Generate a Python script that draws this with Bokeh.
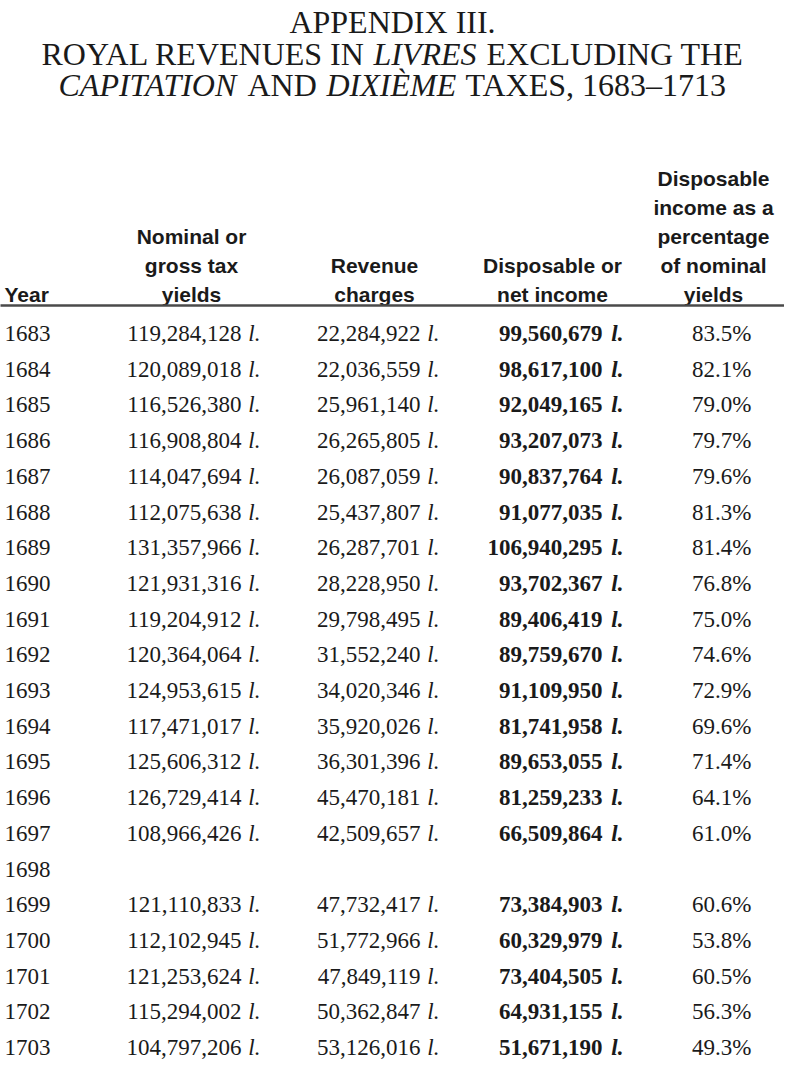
from bokeh.plotting import figure
from bokeh.models import Range1d, ColumnDataSource
from bokeh.core.properties import value
from bokeh.embed import file_html
from bokeh.resources import INLINE

# ---------------- data ----------------
years = [1683, 1684, 1685, 1686, 1687, 1688, 1689, 1690, 1691, 1692, 1693,
         1694, 1695, 1696, 1697, 1698, 1699, 1700, 1701, 1702, 1703]
nominal = [119284128, 120089018, 116526380, 116908804, 114047694, 112075638,
           131357966, 121931316, 119204912, 120364064, 124953615, 117471017,
           125606312, 126729414, 108966426, None, 121110833, 112102945,
           121253624, 115294002, 104797206]
charges = [22284922, 22036559, 25961140, 26265805, 26087059, 25437807,
           26287701, 28228950, 29798495, 31552240, 34020346, 35920026,
           36301396, 45470181, 42509657, None, 47732417, 51772966,
           47849119, 50362847, 53126016]
net = [99560679, 98617100, 92049165, 93207073, 90837764, 91077035,
       106940295, 93702367, 89406419, 89759670, 91109950, 81741958,
       89653055, 81259233, 66509864, None, 73384903, 60329979,
       73404505, 64931155, 51671190]
pct = [83.5, 82.1, 79.0, 79.7, 79.6, 81.3, 81.4, 76.8, 75.0, 74.6, 72.9,
       69.6, 71.4, 64.1, 61.0, None, 60.6, 53.8, 60.5, 56.3, 49.3]

title_line1 = "APPENDIX III."
title_line2 = [("ROYAL REVENUES IN", "normal"), ("LIVRES", "italic"),
               ("EXCLUDING THE", "normal")]
title_line3 = [("CAPITATION", "italic"), ("AND", "normal"),
               ("DIXIÈME", "italic"), ("TAXES, 1683–1713", "normal")]

headers = [
    ["Year"],
    ["Nominal or", "gross tax", "yields"],
    ["Revenue", "charges"],
    ["Disposable or", "net income"],
    ["Disposable", "income as a", "percentage", "of nominal", "yields"],
]
unit = "l."

# ---------------- layout ----------------
SERIF = value("Liberation Serif")
SANS = value("Liberation Sans")
INK = "#1a1a1a"

p = figure(width=784, height=1065, x_range=Range1d(8, 792),
           y_range=Range1d(1073, 8), output_backend="svg",
           toolbar_location=None, min_border=0)
p.title.visible = False
p.axis.visible = False
p.grid.visible = False
p.outline_line_color = None
p.background_fill_color = "white"
p.border_fill_color = "white"

# title
TFS = "32px"
p.text(x=[400], y=[29], text=[title_line1], text_font=SERIF,
       text_font_size=TFS, text_align="center",
       text_baseline="alphabetic", text_color=INK)
line2_x = [49, 381, 494]
for (t, st), xx in zip(title_line2, line2_x):
    p.text(x=[xx], y=[61], text=[t], text_font=SERIF, text_font_size=TFS,
           text_font_style=st, text_align="left",
           text_baseline="alphabetic", text_color=INK)
line3_x = [66, 255, 334, 473]
for (t, st), xx in zip(title_line3, line3_x):
    p.text(x=[xx], y=[92], text=[t], text_font=SERIF, text_font_size=TFS,
           text_font_style=st, text_align="left",
           text_baseline="alphabetic", text_color=INK)

# headers
head_x = [12, 199, 382, 560, 721]
head_align = ["left", "center", "center", "center", "center"]
base_last = 302
step = 29
for lines, hx, al in zip(headers, head_x, head_align):
    n = len(lines)
    ys = [base_last - step * (n - 1 - k) for k in range(n)]
    p.text(x=[hx] * n, y=ys, text=lines, text_font=SANS,
           text_font_size="21px", text_font_style="bold", text_align=al,
           text_baseline="alphabetic", text_color=INK)

# rule
p.segment(x0=[0], y0=[313], x1=[800], y1=[313], line_width=2.5,
          line_color="#4a4a4a")

# rows
row0 = 341
row_step = 35.7
ys = [row0 + i * row_step for i in range(len(years))]

def fmt(v):
    return "" if v is None else f"{v:,}"

def fmt_u(v):
    return "" if v is None else unit

src = ColumnDataSource(dict(
    y=ys,
    year=[str(y) for y in years],
    nom=[fmt(v) for v in nominal],
    chg=[fmt(v) for v in charges],
    net=[fmt(v) for v in net],
    pct=["" if v is None else f"{v:.1f}%" for v in pct],
    u=[fmt_u(v) for v in nominal],
))

FS = "23px"
common = dict(source=src, y="y", text_baseline="alphabetic",
              text_color=INK, text_font_size=FS, text_font=SERIF)

p.text(x=12, text="year", text_align="left", **common)
# nominal
p.text(x=249, text="nom", text_align="right", **common)
p.text(x=268, text="u", text_align="right", text_font_style="italic", **common)
# charges
p.text(x=428, text="chg", text_align="right", **common)
p.text(x=447, text="u", text_align="right", text_font_style="italic", **common)
# net (bold)
p.text(x=610, text="net", text_align="right", text_font_style="bold", **common)
p.text(x=631, text="u", text_align="right", text_font_style="bold italic",
       **common)
# percent
p.text(x=759, text="pct", text_align="right", **common)

open("out.html", "w").write(file_html(p, INLINE))
